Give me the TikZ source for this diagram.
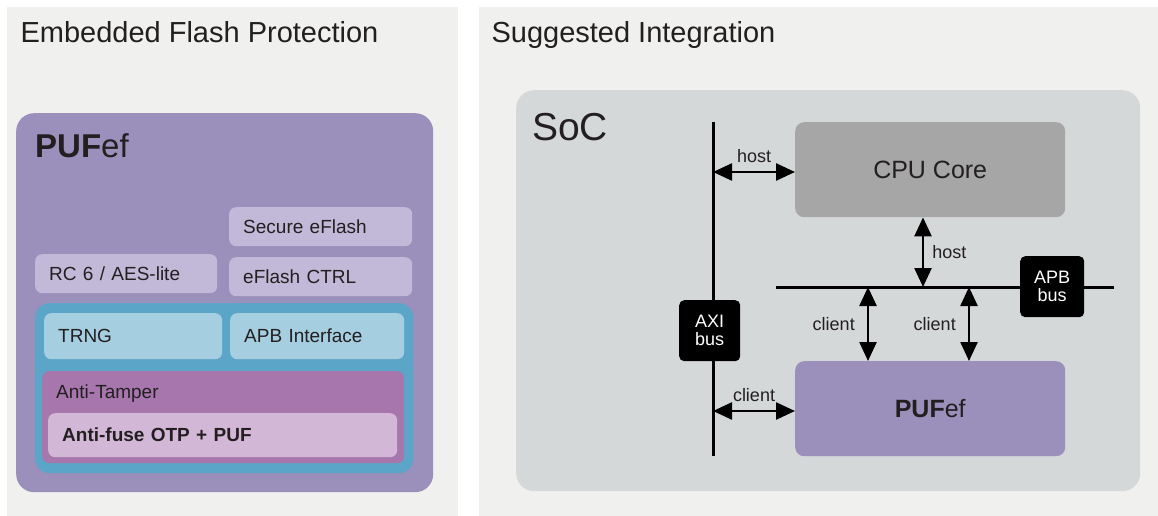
\documentclass[tikz,border=0pt]{standalone}
\usepackage{fontspec}
\setmainfont{Liberation Sans}
\usetikzlibrary{arrows.meta, positioning}

\definecolor{panelgray}{HTML}{F0F0EE}
\definecolor{pufviolet}{HTML}{9B8FBB}
\definecolor{lilac}{HTML}{C1B9D7}
\definecolor{tealblue}{HTML}{5BA5C8}
\definecolor{skyblue}{HTML}{A5CEE0}
\definecolor{mauve}{HTML}{A676AD}
\definecolor{pinklilac}{HTML}{D3B7D6}
\definecolor{socgray}{HTML}{D5D8D9}
\definecolor{cpugray}{HTML}{A6A6A6}
\definecolor{ink}{HTML}{231F20}

\newcommand{\fs}[1]{\fontsize{#1}{#1}\selectfont}

\begin{document}
\begin{tikzpicture}[
  x=1pt, y=-1pt,
  panel/.style={fill=panelgray, anchor=north west, inner sep=0pt},
  cell/.style={rounded corners=7pt, anchor=north west, align=left, inner xsep=14pt, inner ysep=0pt, font=\fs{19}, text=ink},
  block/.style={rounded corners=9pt, anchor=north west, inner sep=0pt, text=ink},
  tag/.style={fill=black, rounded corners=5pt, anchor=north west, inner sep=0pt, align=center, text=white, font=\fs{18}},
  busline/.style={line width=3pt},
  link/.style={{Triangle[length=19pt,width=17pt]}-{Triangle[length=19pt,width=17pt]}, line width=2.5pt},
  lbl/.style={font=\fs{18}, text=ink, inner sep=2pt}
]
\useasboundingbox (0,0) rectangle (1158,516);

% panels
\node[panel, minimum width=451pt, minimum height=509pt] (leftpanel) at (7,7) {};
\node[panel, minimum width=679pt, minimum height=509pt] (rightpanel) at (479,7) {};
\node[anchor=base west, font=\fs{29}, text=ink] (lefttitle) at (17,43) {Embedded Flash Protection};
\node[anchor=base west, font=\fs{29}, text=ink] (righttitle) at (488,43) {Suggested Integration};

% PUFef block
\node[block, fill=pufviolet, rounded corners=18pt, minimum width=417pt, minimum height=379pt] (puf) at (16,113) {};
\node[anchor=base west, font=\fs{33}, text=ink, inner sep=0pt] (puftitle) at (35,157) {\textbf{PUF}ef};

\node[cell, fill=lilac, text width=155pt, minimum height=39pt] (secure) at (229,207) {Secure eFlash};
\node[cell, fill=lilac, text width=155pt, minimum height=39pt] (ctrl) at (229,257) {eFlash CTRL};
\node[cell, fill=lilac, text width=154pt, minimum height=39pt] (rc6) at (35,254) {RC 6 / AES-lite};

\node[block, fill=tealblue, rounded corners=14pt, minimum width=378pt, minimum height=170pt] (core) at (35,303) {};
\node[cell, fill=skyblue, text width=150pt, minimum height=46pt] (trng) at (44,313) {TRNG};
\node[cell, fill=skyblue, text width=146pt, minimum height=46pt] (apbif) at (230,313) {APB Interface};

\node[block, fill=mauve, rounded corners=7pt, minimum width=362pt, minimum height=92pt] (tamper) at (42,371) {};
\node[anchor=base west, font=\fs{19}, text=ink, inner sep=0pt] (tampertxt) at ([xshift=14pt, yshift=-27pt]tamper.north west) {Anti-Tamper};
\node[cell, fill=pinklilac, text width=321pt, minimum height=44pt, font=\fs{19}\bfseries] (otp) at (48,413) {Anti-fuse OTP + PUF};

% SoC
\node[block, fill=socgray, rounded corners=18pt, minimum width=624pt, minimum height=401pt] (soc) at (516,90) {};
\node[anchor=base west, font=\fs{39}, text=ink, inner sep=0pt] (soctitle) at (532,140) {SoC};

\node[block, fill=cpugray, minimum width=270pt, minimum height=95pt, font=\fs{25}] (cpu) at (795,122) {CPU Core};
\node[block, fill=pufviolet, minimum width=270pt, minimum height=95pt, font=\fs{25}] (pufef) at (795,361) {\textbf{PUF}ef};

% buses
\coordinate (axitop) at (713,122);
\coordinate (axibot) at (713,456);
\coordinate (apbleft) at (776,287);
\coordinate (apbright) at (1114,287);
\draw[busline] (axitop) -- (axibot);
\draw[busline] (apbleft) -- (apbright);
\node[tag, minimum width=61pt, minimum height=61pt] (axi) at (679,300) {AXI\\bus};
\node[tag, minimum width=64pt, minimum height=61pt] (apb) at (1020,256) {APB\\bus};

% connections
\coordinate (cpuhost) at (713,172);
\coordinate (pufclient) at (713,411);
\coordinate (apbhost) at (923,287);
\coordinate (apbc1) at (868,287);
\coordinate (apbc2) at (969,287);
\draw[link] (cpuhost) -- (cpu.west |- cpuhost) node[lbl, midway, above=6pt] {host};
\draw[link] (pufclient) -- (pufef.west |- pufclient) node[lbl, midway, above=6pt] {client};
\draw[link] (cpu.south -| apbhost) -- (apbhost) node[lbl, midway, right=6pt] {host};
\draw[link] (apbc1) -- (pufef.north -| apbc1) node[lbl, midway, left=10pt] {client};
\draw[link] (apbc2) -- (pufef.north -| apbc2) node[lbl, midway, left=10pt] {client};
\end{tikzpicture}
\end{document}
